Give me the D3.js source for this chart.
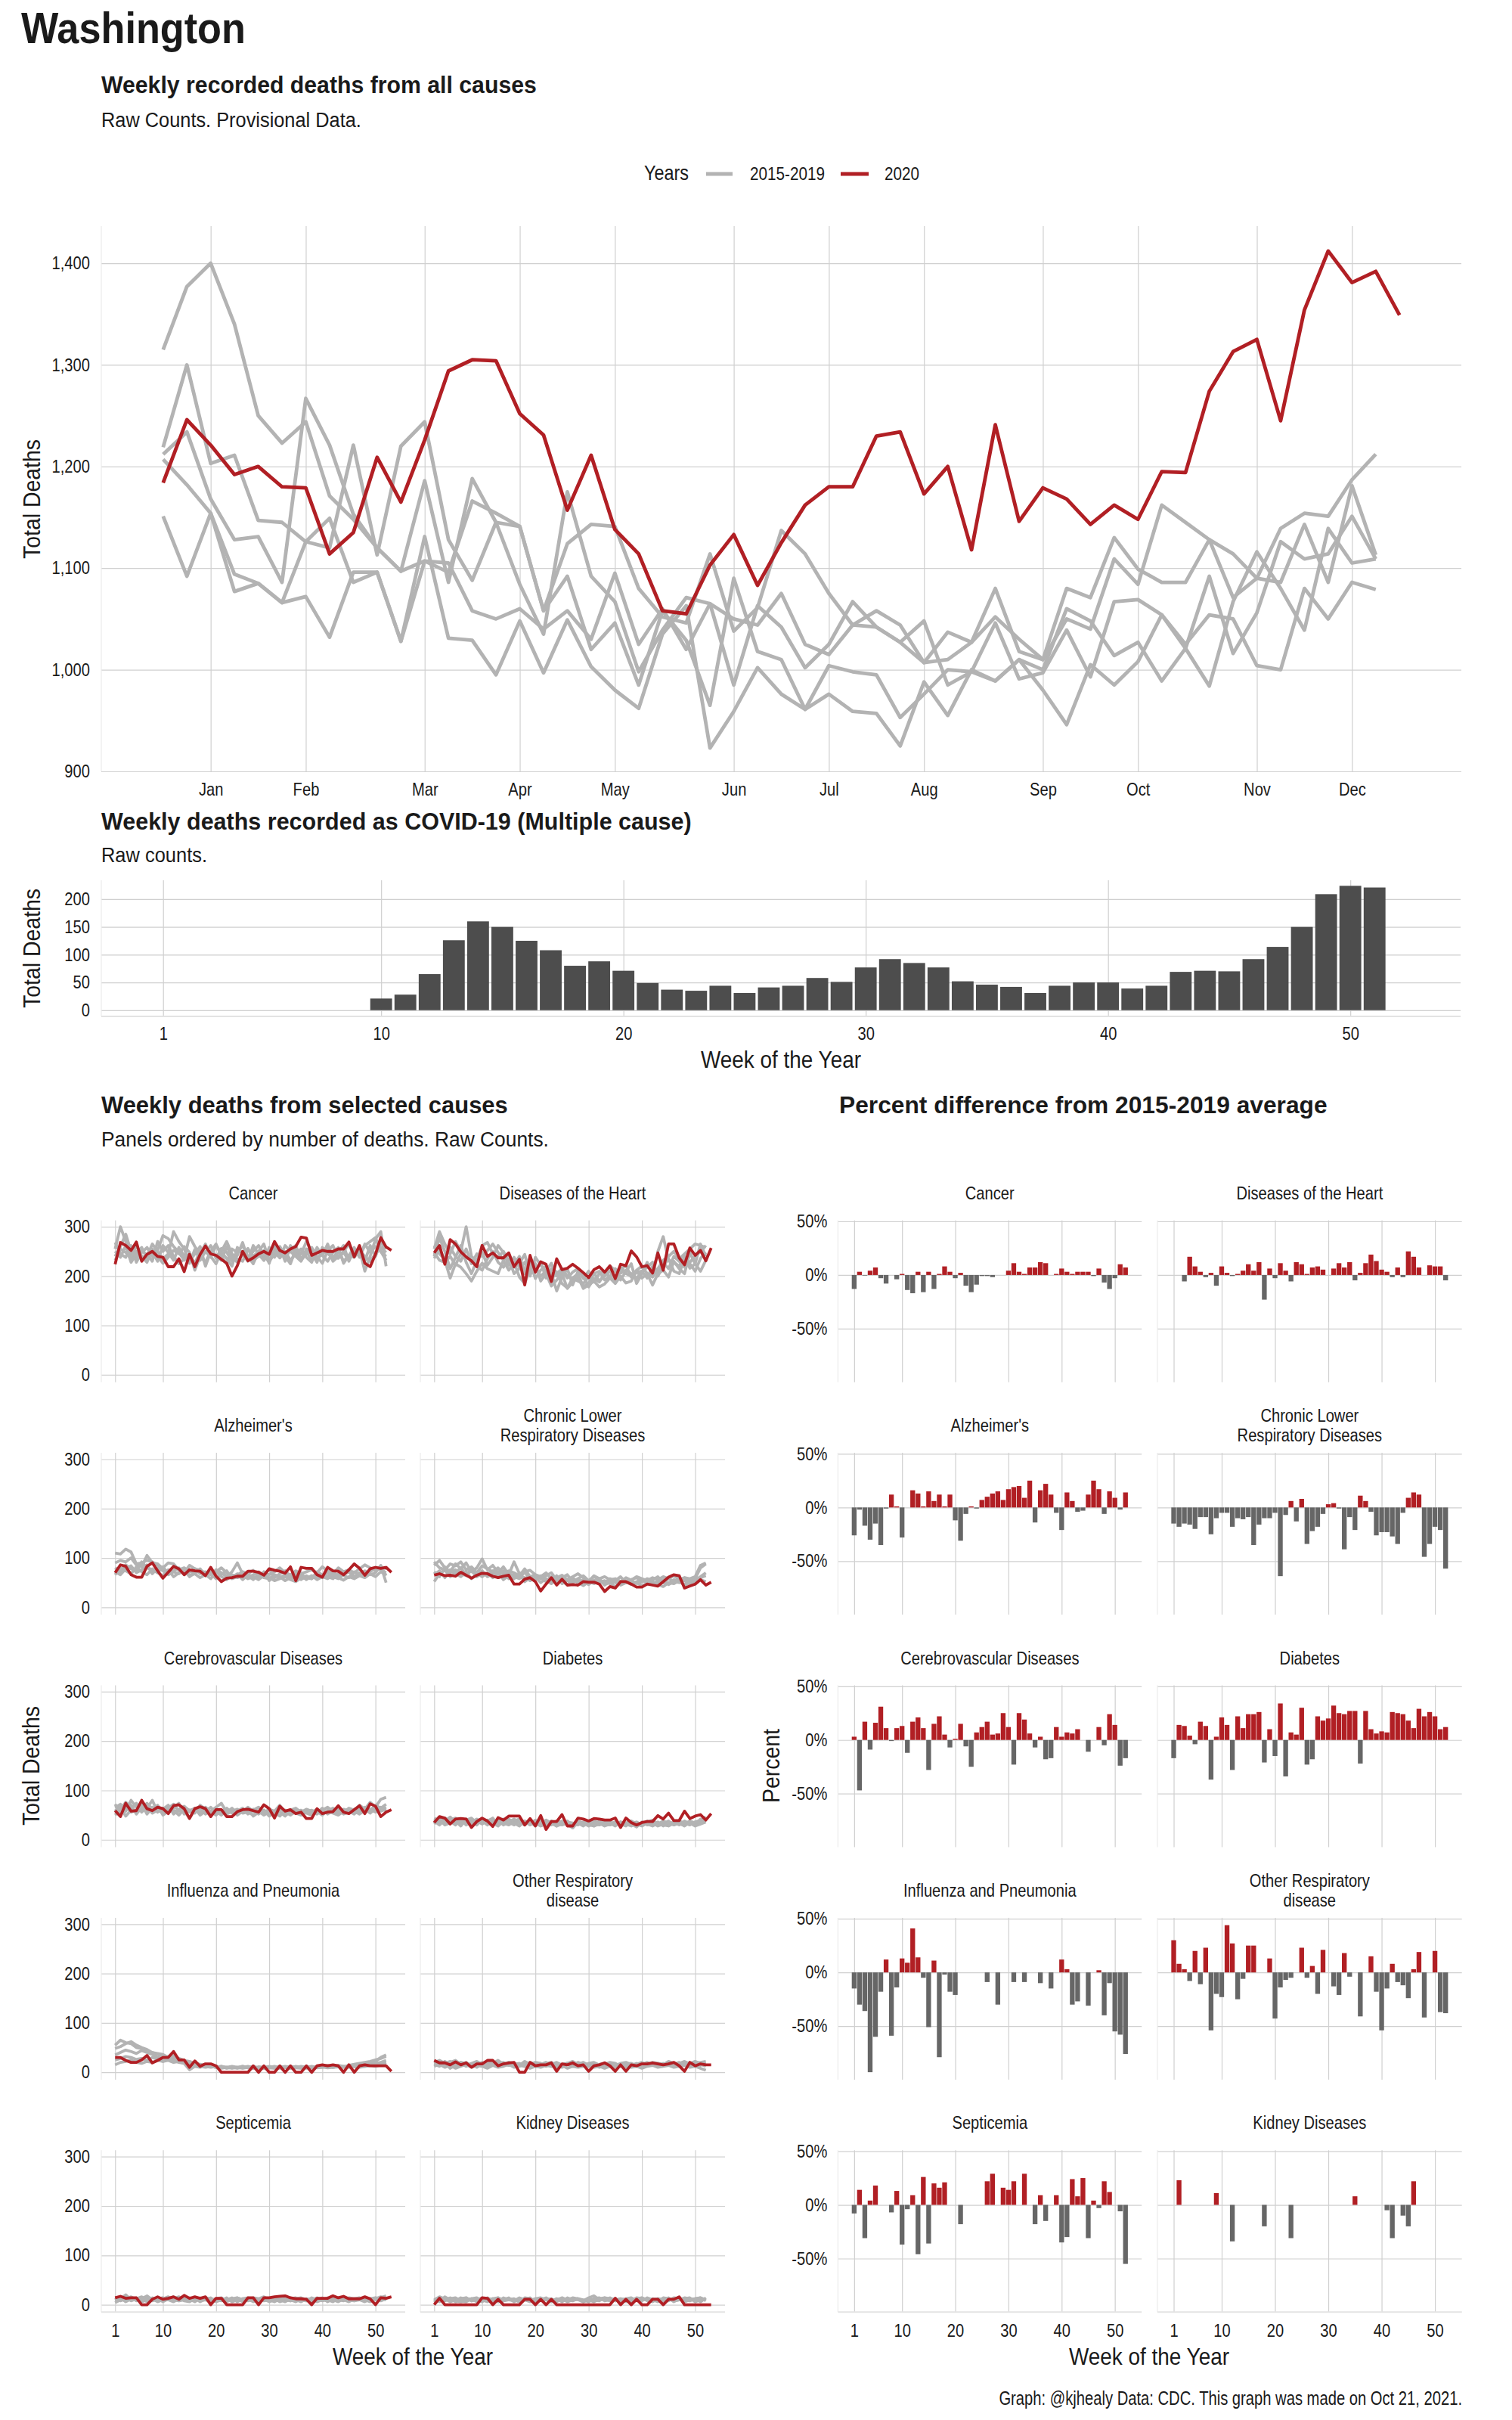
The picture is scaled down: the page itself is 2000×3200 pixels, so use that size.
<!DOCTYPE html>
<html><head><meta charset="utf-8">
<script src="https://cdn.jsdelivr.net/npm/d3@7"></script>
<style>
body{margin:0;background:#fff;}
svg text{font-family:"Liberation Sans",Arial,sans-serif;fill:#1a1a1a;}
</style></head><body><script>
// ---------------- DATA ----------------
const monthLabels = ["Jan","Feb","Mar","Apr","May","Jun","Jul","Aug","Sep","Oct","Nov","Dec"];
const monthWeeks  = [3,7,12,16,20,25,29,33,38,42,47,51];
const yearsPast = ["2015","2016","2017","2018","2019"];
const all2020 = [1184,1246,1221,1192,1200,1180,1179,1114,1135,1209,1165,1226,1294,1305,1304,1252,1231,1157,1211,1138,1114,1058,1055,1103,1133,1083,1125,1162,1180,1180,1230,1234,1173,1200,1118,1241,1146,1179,1168,1143,1162,1148,1195,1194,1274,1313,1325,1245,1354,1412,1381,1392,1349];
const all2015 = [1315,1377,1400,1340,1250,1223,1244,1171,1148,1120,1097,1107,1096,1166,1154,1141,1058,1124,1143,1141,1080,1052,1046,1114,1038,1061,1137,1114,1075,1044,1058,1044,1007,1037,1027,1080,1018,1010,1080,1071,1130,1099,1086,1086,1128,1071,1090,1139,1154,1151,1187,1212];
const all2016 = [1219,1300,1203,1211,1147,1145,1126,1120,1221,1113,1220,1244,1128,1088,1145,1084,1035,1175,1092,1067,998,1039,1071,1065,985,1063,1042,1002,1025,1067,1042,1027,1048,985,998,1046,991,997,1039,993,1067,1069,1054,1021,1092,1016,1056,1126,1109,1114,1151,1109];
const all2017 = [1212,1234,1168,1128,1131,1086,1267,1221,1153,1120,1097,1186,1086,1188,1145,1141,1058,1092,1020,1046,985,1058,1029,965,1090,1018,1010,961,1004,998,995,953,976,1000,998,989,1010,1000,1060,1048,1014,1027,989,1021,984,1067,1116,1080,1039,1139,1105,1109];
const all2018 = [1151,1092,1154,1077,1085,1066,1072,1032,1096,1096,1028,1131,1031,1029,995,1048,997,1049,1003,980,962,1035,1063,923,959,1002,976,961,976,959,957,925,988,955,1000,989,1010,980,946,1005,985,1008,1054,1025,1054,1050,1004,1000,1080,1050,1086,1079];
const all2019 = [1207,1182,1154,1094,1085,1066,1126,1149,1086,1096,1028,1107,1105,1058,1050,1060,1040,1058,1030,1095,1025,1060,1020,1065,1050,1044,1075,1025,1015,1044,1042,1027,1007,1010,1027,1052,1030,1010,1050,1040,1109,1084,1162,1145,1128,1114,1090,1086,1143,1086,1181,1113];
const allTicks = [900,1000,1100,1200,1300,1400];

const covidFirstWeek = 10;
const covidDeaths = [21,28,65,126,160,150,125,108,80,88,71,49,37,35,44,31,41,44,58,51,77,92,85,77,52,46,42,31,44,50,50,39,44,69,71,70,92,114,150,209,224,221];
const covidYTicks = [0,50,100,150,200];
const weekTicks = [1,10,20,30,40,50];

const causeLabels = [["Cancer"],["Diseases of the Heart"],["Alzheimer's"],["Chronic Lower","Respiratory Diseases"],["Cerebrovascular Diseases"],["Diabetes"],["Influenza and Pneumonia"],["Other Respiratory","disease"],["Septicemia"],["Kidney Diseases"]];
const countTicks = [0,100,200,300];
const pctTicks = [-50,0,50];

// 2020 weekly counts by cause
const cancer2020 = [224,268,262,252,269,230,244,250,240,238,219,219,235,209,244,219,244,261,245,242,234,226,200,221,250,231,237,245,250,244,270,252,247,255,260,279,277,242,247,252,250,250,255,255,269,239,262,226,219,244,278,259,252];
const heart2020 = [247,262,224,274,265,249,239,231,219,262,240,247,237,237,247,219,234,182,242,208,229,224,189,235,213,216,224,216,207,197,213,219,208,221,195,224,221,251,239,219,221,206,247,212,265,265,237,223,257,242,252,231,257];
const alz2020 = [70,86,83,66,61,61,83,90,74,59,71,83,78,66,76,74,73,64,81,63,52,59,60,63,63,73,73,71,65,78,75,73,69,82,54,81,79,79,66,61,81,74,73,66,76,88,79,65,78,81,79,81,71];
const clrd2020 = [65,68,64,65,63,71,65,59,65,69,68,63,60,63,65,47,47,57,60,52,33,47,60,45,57,45,46,45,52,51,51,47,32,42,39,52,52,47,41,41,47,45,43,52,61,66,64,39,43,47,56,45,51];
const cere2020 = [59,47,74,58,59,80,63,59,66,63,53,69,71,63,43,63,67,63,47,61,61,47,47,57,61,62,59,56,71,63,44,68,58,61,53,56,43,43,63,53,56,57,69,56,53,61,69,53,73,68,47,56,61];
const diab2020 = [35,47,44,32,42,43,42,25,37,44,38,27,45,40,48,48,48,30,43,28,49,21,37,37,51,28,28,44,42,38,43,42,40,40,44,25,44,35,30,35,37,37,49,42,54,39,39,58,43,48,51,40,53];
const flu2020 = [30,30,24,20,20,25,34,19,24,30,30,42,25,25,10,23,12,17,17,13,0,0,0,0,0,0,13,0,13,0,0,13,0,13,0,0,13,0,13,15,13,15,13,0,15,0,13,15,13,13,13,13,2];
const oth2020 = [24,19,19,15,21,15,19,10,17,17,24,24,13,17,19,20,0,0,20,13,15,15,19,2,17,15,19,13,15,2,13,15,19,13,2,15,2,15,13,17,17,19,17,15,17,20,13,2,20,13,17,15,15];
const sep2020 = [14,17,13,14,14,0,0,11,16,11,13,16,11,19,13,16,13,16,0,13,13,0,0,0,0,14,14,0,14,14,16,17,18,14,12,12,11,0,13,13,13,18,14,17,12,12,12,16,12,0,14,13,16];
const kid2020 = [0,13,0,0,0,0,0,0,0,14,13,0,11,0,0,0,0,11,11,0,11,0,11,0,0,0,0,0,0,0,0,0,0,0,13,0,11,0,11,0,0,11,11,0,11,11,16,0,0,0,0,0,0];

// 2015-2019 weekly counts by cause (one row per year)
const cancerPast = [
[255,300,270,240,250,235,245,230,270,250,262,240,225,235,280,260,245,265,240,225,250,270,245,235,230,255,240,250,265,230,245,260,240,225,255,245,270,250,235,245,255,230,240,250,265,240,255,210,240,275,290,220],
[240,260,285,250,235,255,240,265,250,235,245,290,270,255,230,245,260,220,250,265,240,225,255,248,262,240,225,250,232,258,248,237,262,250,240,230,255,245,228,258,246,236,252,230,242,258,238,265,248,260,250,232],
[268,245,238,262,228,248,258,240,252,282,276,260,248,232,245,225,252,248,262,236,256,248,230,242,268,235,250,262,242,228,256,247,238,252,262,232,245,258,240,226,251,262,236,248,232,255,248,230,262,240,268,255],
[232,255,248,235,262,240,228,255,240,226,238,252,245,260,248,212,240,228,250,242,232,260,238,228,244,256,232,240,252,226,262,237,250,232,245,255,238,228,255,242,230,248,258,226,242,238,252,240,230,245,258,248],
[250,238,262,228,245,258,236,250,230,262,248,232,258,240,226,254,232,250,238,262,248,236,220,258,245,230,262,244,232,250,238,258,230,262,245,236,250,232,258,242,265,236,248,262,230,255,240,262,270,278,250,240]];
const heartPast = [
[255,290,265,245,270,250,300,240,230,262,268,245,238,250,230,224,240,210,232,215,200,210,195,205,215,200,195,190,185,198,206,190,200,210,195,218,205,200,212,220,205,198,215,232,240,250,235,245,255,265,262,258],
[262,245,235,258,240,230,255,225,245,240,252,265,248,232,245,218,226,244,205,212,228,196,215,208,185,176,196,205,178,186,205,210,192,200,186,212,222,198,208,210,196,220,210,228,215,240,230,218,228,240,250,262],
[240,278,250,215,238,262,228,205,232,248,222,238,262,248,222,238,218,205,228,195,212,220,206,170,198,215,182,210,200,178,195,188,205,220,212,192,210,225,185,205,228,200,250,280,232,228,220,240,225,210,236,248],
[236,255,232,196,225,218,205,190,210,226,215,210,205,232,212,228,198,185,215,225,190,205,180,192,205,175,188,198,175,182,190,178,184,196,185,200,186,190,210,196,205,182,205,212,198,230,215,205,248,225,210,232],
[248,232,228,240,222,246,238,232,220,212,235,250,228,218,235,205,215,228,200,238,222,210,226,200,212,196,208,215,195,210,188,205,210,198,215,206,212,205,195,210,218,228,200,220,235,210,205,236,216,225,265,240]];
const alzPast = [
[110,108,118,112,88,90,95,92,85,80,90,88,76,80,72,78,75,70,68,72,80,70,64,66,72,68,75,62,70,66,72,80,70,66,74,68,72,76,70,82,74,68,80,72,76,70,78,86,80,74,82,78],
[90,95,92,100,86,82,105,90,88,78,72,82,75,70,85,78,68,72,66,76,70,62,72,90,68,60,66,72,64,78,60,68,74,62,70,64,60,58,72,66,62,70,64,68,74,62,70,64,72,80,76,70],
[80,72,86,78,74,92,80,76,70,82,68,74,80,66,72,70,78,65,72,60,66,74,58,62,70,64,56,68,60,58,66,62,54,60,68,56,64,58,66,60,70,62,58,66,72,60,68,74,66,70,85,50],
[66,80,74,68,82,72,66,78,70,64,76,62,70,78,64,68,60,66,58,72,62,56,66,60,64,58,62,56,64,60,54,58,62,56,52,60,58,64,56,62,58,66,60,55,62,58,64,60,68,62,72,66],
[72,66,78,84,70,76,86,68,80,74,66,72,68,76,62,70,74,64,68,58,70,64,60,68,56,66,62,58,72,54,64,60,66,58,62,70,56,64,60,66,62,58,68,64,60,72,66,62,74,78,82,64]];
const clrdPast = [
[85,95,80,72,88,78,90,72,80,98,76,85,70,82,66,92,68,72,75,66,62,70,58,60,65,56,62,68,60,52,64,58,62,56,58,52,60,55,62,58,54,60,56,62,58,52,55,60,58,62,85,90],
[92,80,76,88,84,92,76,82,70,84,78,72,80,68,74,70,64,78,62,66,58,64,70,55,60,66,52,58,64,54,62,56,50,58,54,62,50,56,60,52,58,55,62,50,58,64,56,60,52,58,80,88],
[52,68,75,62,70,80,66,74,62,70,68,74,60,66,70,62,58,72,55,64,60,52,62,48,58,54,60,50,56,48,52,58,45,54,50,46,54,48,52,56,50,46,54,50,48,56,52,46,54,50,60,64],
[66,74,60,76,68,62,72,58,66,74,62,68,72,56,64,58,68,52,60,56,64,54,48,58,52,46,56,50,44,52,48,54,46,50,42,48,52,46,50,44,48,52,46,42,50,48,54,44,50,48,56,52],
[72,62,82,70,76,68,64,80,70,62,70,60,66,74,58,66,62,60,54,62,50,58,52,64,48,55,50,56,52,46,55,50,54,48,52,45,50,54,48,52,55,48,50,56,46,52,50,54,48,55,62,70]];
const cerePast = [
[65,72,58,80,66,60,74,62,70,56,64,72,58,66,60,54,70,62,58,66,74,56,62,58,64,52,60,66,55,62,58,70,54,60,64,56,62,58,52,60,66,58,62,56,64,60,70,62,76,66,82,86],
[50,62,76,66,70,58,64,80,56,62,70,52,60,68,58,64,50,58,66,54,60,56,64,50,58,62,48,56,60,52,58,62,56,50,58,54,60,56,62,52,58,64,54,60,56,62,58,66,60,70,64,72],
[72,55,62,70,52,66,58,62,68,50,58,64,74,52,60,62,56,60,52,62,56,64,54,60,56,66,58,52,60,48,56,62,58,54,62,52,58,60,54,64,52,60,56,62,58,52,64,58,62,56,60,66],
[58,66,48,60,74,56,68,54,60,64,56,60,50,62,56,58,64,52,58,50,60,52,58,62,54,56,50,58,52,60,50,56,48,58,54,50,56,52,58,50,60,54,50,58,62,54,56,62,54,64,58,62],
[62,50,68,56,60,72,52,66,58,60,66,56,62,58,44,60,54,66,56,58,50,60,56,52,60,54,62,58,50,56,54,48,60,52,56,60,54,50,56,58,54,56,60,52,56,58,52,60,56,62,66,58]];
const diabPast = [
[40,35,44,38,30,42,36,28,40,34,38,44,30,36,42,34,28,38,32,40,30,36,34,28,38,32,24,36,30,34,28,38,32,30,36,28,34,32,26,36,30,34,28,32,38,30,34,28,36,30,42,38],
[32,44,38,46,36,32,40,44,34,38,30,40,36,34,30,38,42,32,36,28,38,34,30,36,32,38,30,34,28,36,32,30,34,38,30,36,32,28,34,30,36,40,32,38,34,30,36,32,38,34,36,44],
[44,38,32,40,44,36,34,40,30,42,36,32,40,30,36,42,34,38,30,36,32,40,34,28,32,36,34,30,36,32,38,34,28,32,36,30,34,38,32,28,34,36,30,34,32,36,30,38,32,36,40,46],
[36,42,30,34,38,28,42,34,38,32,40,34,28,38,32,34,36,30,40,34,28,32,38,34,30,34,28,32,34,30,28,32,36,30,34,32,28,36,30,34,32,28,34,30,28,34,32,30,34,28,32,36],
[38,30,40,36,32,40,30,36,42,36,34,30,38,42,36,30,38,34,32,38,36,30,32,38,36,30,32,38,34,28,34,36,30,34,28,36,30,34,36,30,38,32,36,28,36,32,38,34,30,36,34,40]];
const fluPast = [
[55,65,60,58,50,48,42,40,38,36,30,28,25,22,20,18,15,14,12,12,10,10,12,10,9,10,8,10,9,12,10,8,10,9,12,10,11,9,10,12,14,10,12,11,14,12,15,14,18,22,30,35],
[48,52,58,62,55,50,46,40,36,32,30,34,28,24,22,18,16,14,12,10,12,10,8,10,12,9,10,8,10,11,9,12,10,8,10,12,10,9,11,10,12,14,12,10,14,16,18,20,22,25,28,32],
[35,40,45,42,38,44,40,36,30,28,32,30,26,20,18,16,14,12,10,12,10,9,10,8,10,12,9,10,8,10,9,11,10,12,10,9,8,10,12,11,10,12,14,12,10,14,12,16,15,18,20,24],
[25,28,32,30,26,28,24,30,26,22,24,20,22,18,16,14,12,10,12,10,8,10,9,10,8,10,12,9,8,10,12,9,10,8,11,10,12,10,9,10,12,10,11,12,10,12,14,12,14,16,15,20],
[15,20,22,25,20,18,22,20,24,22,26,24,20,18,5,12,10,14,12,10,12,8,10,9,12,10,8,11,10,9,8,10,12,10,9,8,10,12,10,11,9,10,12,10,12,11,10,12,14,12,15,18]];
const othPast = [
[20,24,18,22,16,20,14,18,22,16,20,18,24,16,20,18,14,22,16,20,18,14,16,20,15,18,22,16,14,18,20,15,18,16,14,18,20,16,14,18,16,20,18,15,22,18,16,20,18,22,18,16],
[16,12,20,8,14,18,12,16,10,18,14,20,12,16,14,18,12,16,10,14,18,12,16,14,10,16,12,14,18,12,16,10,14,12,16,12,10,14,18,12,14,16,12,14,16,18,12,16,14,20,16,12],
[22,18,14,20,24,16,20,12,18,14,22,16,18,20,14,16,18,12,20,16,14,18,20,12,16,18,14,20,16,12,18,14,16,20,18,12,16,18,14,16,20,14,18,16,20,14,18,22,16,18,20,22],
[12,16,10,14,8,12,16,10,14,12,8,14,10,12,16,10,14,12,8,12,10,14,12,10,14,8,12,10,12,14,10,12,8,12,10,14,12,10,12,8,12,14,10,12,14,10,12,14,10,12,8,4],
[18,14,22,16,12,20,18,14,16,20,12,18,16,14,20,12,16,14,18,12,16,20,14,16,12,18,14,16,20,14,12,16,18,14,16,12,18,14,16,20,14,16,12,18,14,16,20,14,18,16,14,18]];
const sepPast = [
[12,16,10,14,8,12,18,10,14,6,12,16,10,12,14,8,12,10,14,6,10,12,8,14,10,12,6,10,14,8,12,10,6,12,14,10,8,12,10,14,6,12,10,8,14,12,10,6,12,14,10,16],
[8,12,20,10,14,6,10,12,8,14,10,6,12,14,10,12,8,10,6,12,14,8,10,12,6,10,14,12,8,10,12,6,10,8,12,14,10,6,12,10,8,14,12,10,6,12,14,10,8,12,16,14],
[14,8,12,16,10,12,6,14,10,12,16,10,8,12,10,14,6,12,10,8,12,10,14,6,12,10,8,12,16,10,6,12,10,14,8,12,10,12,6,10,14,8,12,10,12,8,10,14,12,10,14,18],
[10,14,6,12,10,8,14,12,6,10,12,14,8,10,12,6,14,10,8,12,10,6,12,14,10,8,12,6,10,12,14,8,12,10,6,12,8,14,10,12,10,6,14,12,10,8,12,10,6,14,12,10],
[4,10,14,8,12,16,10,8,12,14,10,12,16,8,6,12,10,14,12,10,8,14,6,10,12,14,10,8,12,6,10,14,12,8,10,6,12,10,14,8,12,10,6,12,8,10,12,14,10,12,8,12]];
const kidPast = [
[8,14,10,12,6,10,14,8,12,10,6,12,14,8,10,12,6,10,8,12,14,10,6,12,8,10,14,12,6,10,8,12,10,14,8,10,12,6,10,14,8,12,10,6,12,8,10,14,12,10,8,12],
[12,6,16,10,8,14,10,12,6,10,14,8,12,10,14,6,12,10,8,12,10,14,8,10,12,6,10,12,8,14,18,10,12,8,10,12,6,10,12,8,14,10,12,6,10,12,14,8,10,12,6,14],
[4,10,8,12,14,8,6,12,10,14,8,12,6,10,12,8,14,10,6,12,8,10,12,6,14,10,8,12,10,6,12,14,8,10,12,6,10,8,14,12,10,6,12,10,8,14,12,6,10,12,14,8],
[10,16,12,6,10,12,14,8,10,6,12,10,14,8,12,10,6,14,12,8,10,12,6,10,14,8,12,10,6,12,10,8,14,12,10,6,12,14,8,10,12,10,6,14,12,8,10,12,14,6,10,12],
[6,12,10,14,8,6,10,12,14,8,10,12,6,14,10,8,12,10,14,6,12,10,8,12,6,14,10,12,8,10,6,12,14,10,8,12,10,6,12,14,10,8,12,10,14,6,12,10,8,12,14,10]];

// percent difference from 2015-2019 average (null = not reported)
const _ = null;
const cancerPct = [-13,3,-0.5,4,7,-3,-8,0,-4,1,-14,-17,3,-16,3,-13,1,8,3,-3,2,-10,-16,-9,-1,-1,-2,0,0,4,11,3,1,7,7,12,11,0,1,6,3,1,3,3,3,-1,6,-7,-13,-3,10,7];
const heartPct = [_,_,-6,17,8,3,-2,2,-10,8,2,-1,1,4,10,4,12,-23,6,-3,11,4,-6,12,10,1,7,8,5,0,6,11,7,12,-5,2,11,19,13,5,3,-2,7,-2,22,17,7,0,9,8,8,-5];
const alzPct = [-26,-2,-17,-30,-15,-35,-1,12,1,-28,0,16,13,1,15,6,12,1,12,-12,-31,-6,1,-1,7,10,13,15,7,17,19,20,9,25,-14,16,22,12,-5,-21,14,6,-4,-3,12,25,17,-6,15,9,-2,14];
const clrdPct = [-15,-18,-15,-16,-20,-9,-9,-25,-10,-5,-5,-18,-10,-11,-9,-35,-16,-10,-10,-5,-64,-7,6,-13,8,-34,-22,-18,-6,3,4,-1,-39,-9,-21,11,6,-4,-26,-23,-23,-27,-34,-5,9,14,12,-46,-34,-18,-21,-57];
const cerePct = [3,-47,17,-9,16,31,11,-1,11,13,-12,17,21,11,-28,15,22,5,-7,1,15,-6,-25,7,12,17,5,6,25,12,-23,25,19,6,-7,3,-18,-17,12,3,7,6,10,_,-11,0,12,-5,24,14,-24,-17];
const diabPct = [-17,14,13,4,-4,17,13,-37,3,21,14,-28,22,11,24,24,26,-21,10,-15,34,-34,7,5,30,-23,-18,22,18,20,32,25,24,27,27,-22,27,10,6,8,7,26,25,24,18,11,29,22,26,22,10,12];
const fluPct = [-15,-30,-36,-93,-60,-18,12,-59,-14,13,9,41,14,-5,-51,11,-79,-2,-18,-21,_,_,_,_,_,-9,_,-30,_,_,-9,_,-9,_,_,-10,_,-15,_,12,3,-30,-27,_,-31,_,2,-40,-10,-55,-58,-76];
const othPct = [30,8,3,-8,20,-11,23,-54,-20,-23,44,27,-25,-6,25,25,_,_,13,-43,-14,-7,-5,_,23,-5,6,-20,21,_,-13,-21,18,-4,_,-41,_,15,-18,-54,-15,8,-9,-12,-24,3,19,-42,_,20,-37,-38];
const sepPct = [-8,14,-31,4,18,_,_,-7,13,-37,-4,9,-46,26,-36,20,16,21,_,_,-18,_,_,_,_,22,29,_,16,14,22,_,29,_,-18,9,-15,_,9,-35,-30,24,8,25,-31,4,-3,22,12,_,-6,-55];
const kidPct = [_,23,_,_,_,_,_,_,11,_,_,-34,_,_,_,_,_,-20,_,_,_,_,-31,_,_,_,_,_,_,_,_,_,_,_,8,_,_,_,_,_,-5,-31,_,-10,-20,22,_,_,_,_,_,_];

const cur2020 = [cancer2020,heart2020,alz2020,clrd2020,cere2020,diab2020,flu2020,oth2020,sep2020,kid2020];
const past = [cancerPast,heartPast,alzPast,clrdPast,cerePast,diabPast,fluPast,othPast,sepPast,kidPast];
const pcts = [cancerPct,heartPct,alzPct,clrdPct,cerePct,diabPct,fluPct,othPct,sepPct,kidPct];

// ---------------- DRAW ----------------
const RED = "#b11f24", GRAY = "#b3b3b3", GRID = "#d0d0d0", DARK = "#4d4d4d", BARGRAY = "#666666";
const SX = 0.84; // horizontal condensing to mimic a condensed face
const W = 2000, H = 3200;
const svg = d3.select("body").append("svg").attr("width", W).attr("height", H);
svg.append("rect").attr("width", W).attr("height", H).attr("fill", "#fff");

// condense a text element horizontally (optionally to a target width)
function condense(t, target, rotate) {
  const node = t.node();
  const x = +t.attr("x") || 0, y = +t.attr("y") || 0;
  let s = SX;
  if (target) { const w = node.getComputedTextLength(); if (w > 0) s = target / w; }
  t.attr("x", 0).attr("y", 0).attr("transform", `translate(${x},${y})${rotate ? " rotate(-90)" : ""} scale(${s},1)`);
}
function txt(x, y, s, size, opts = {}) {
  const t = svg.append("text").attr("x", x).attr("y", y).attr("font-size", size).text(s);
  if (opts.weight) t.attr("font-weight", opts.weight);
  if (opts.anchor) t.attr("text-anchor", opts.anchor);
  if (opts.rotate) t.attr("dominant-baseline", "central");
  condense(t, opts.w, opts.rotate);
  return t;
}

function grid(g, xs, ys, xt, yt, o) {
  const [x0, x1] = xs.range(); const [yb, ytop] = ys.range();
  const ax = d3.axisBottom(xs).tickValues(xt).tickSize(-(yb - ytop)).tickPadding(o.xpad)
    .tickFormat(o.xlab ? o.xfmt : () => "");
  const gx = g.append("g").attr("transform", `translate(0,${yb})`).call(ax);
  gx.select(".domain").remove();
  gx.selectAll("line").attr("stroke", GRID).attr("stroke-width", 1.2);
  gx.selectAll("text").attr("font-size", o.fs).attr("fill", "#1a1a1a").attr("font-family", null)
    .each(function () { condense(d3.select(this)); });
  const ay = d3.axisLeft(ys).tickValues(yt).tickSize(-(x1 - x0)).tickPadding(o.ypad)
    .tickFormat(o.ylab ? o.yfmt : () => "");
  const gy = g.append("g").attr("transform", `translate(${x0},0)`).call(ay);
  gy.select(".domain").remove();
  gy.selectAll("line").attr("stroke", GRID).attr("stroke-width", 1.2);
  gy.selectAll("text").attr("font-size", o.fs).attr("fill", "#1a1a1a").attr("font-family", null)
    .each(function () { condense(d3.select(this)); });
  g.append("line").attr("x1", x0).attr("x2", x0).attr("y1", ytop).attr("y2", yb).attr("stroke", "#ebebeb").attr("stroke-width", 1.2);
  if (o.bottomLine) g.append("line").attr("x1", x0).attr("x2", x1).attr("y1", yb).attr("y2", yb).attr("stroke", "#e3e3e3").attr("stroke-width", 2);
}

// Titles
txt(28, 57, "Washington", 58, {weight: "bold", w: 297});
txt(134, 123, "Weekly recorded deaths from all causes", 32, {weight: "bold", w: 576});
txt(134, 168, "Raw Counts. Provisional Data.", 28, {w: 344});

// Legend
txt(852, 238, "Years", 27, {w: 59});
svg.append("line").attr("x1", 934).attr("x2", 969).attr("y1", 230).attr("y2", 230).attr("stroke", GRAY).attr("stroke-width", 5);
txt(992, 238, "2015-2019", 23, {w: 99});
svg.append("line").attr("x1", 1112).attr("x2", 1149).attr("y1", 230).attr("y2", 230).attr("stroke", RED).attr("stroke-width", 5);
txt(1170, 238, "2020", 23, {w: 46});

// --- Top chart ---
{
  const xs = d3.scaleLinear().domain([-1.6, 55.6]).range([134, 1933]);
  const ys = d3.scaleLinear().domain([900, 1436.5]).range([1020, 299]);
  const g = svg.append("g");
  grid(g, xs, ys, monthWeeks, allTicks, {xlab: true, ylab: true, xfmt: (d, i) => monthLabels[i], yfmt: d3.format(","), fs: 24, xpad: 15, ypad: 15});
  const line = d3.line().x((d, i) => xs(i + 1)).y(d => ys(d));
  [all2015, all2016, all2017, all2018, all2019].forEach(s => {
    g.append("path").attr("d", line(s)).attr("fill", "none").attr("stroke", GRAY).attr("stroke-width", 4.8).attr("stroke-linejoin", "round");
  });
  g.append("path").attr("d", line(all2020)).attr("fill", "none").attr("stroke", RED).attr("stroke-width", 4.8).attr("stroke-linejoin", "round");
  txt(42, 660, "Total Deaths", 32, {rotate: true, anchor: "middle", w: 158});
}

// --- COVID bar chart ---
txt(134, 1097, "Weekly deaths recorded as COVID-19 (Multiple cause)", 32, {weight: "bold", w: 781});
txt(134, 1140, "Raw counts.", 28, {w: 140});
{
  const xs = d3.scaleLinear().domain([-1.55, 54.55]).range([134, 1932]);
  const ys = d3.scaleLinear().domain([-11.2, 234]).range([1344, 1164]);
  const g = svg.append("g");
  grid(g, xs, ys, weekTicks, covidYTicks, {xlab: true, ylab: true, xfmt: d => d, yfmt: d => d, fs: 24, xpad: 14, ypad: 15, bottomLine: true});
  g.selectAll("rect.cv").data(covidDeaths).enter().append("rect")
    .attr("x", (d, i) => xs(covidFirstWeek + i - 0.45))
    .attr("width", (d, i) => xs(covidFirstWeek + i + 0.45) - xs(covidFirstWeek + i - 0.45))
    .attr("y", d => ys(d)).attr("height", d => ys(0) - ys(d))
    .attr("fill", DARK);
  txt(42, 1254, "Total Deaths", 32, {rotate: true, anchor: "middle", w: 158});
  txt(1033, 1412, "Week of the Year", 32, {anchor: "middle", w: 212});
}

// --- Small multiples ---
txt(134, 1472, "Weekly deaths from selected causes", 32, {weight: "bold", w: 538});
txt(134, 1516, "Panels ordered by number of deaths. Raw Counts.", 28, {w: 592});
txt(1110, 1472, "Percent difference from 2015-2019 average", 32, {weight: "bold", w: 646});

const rowTop = r => 1613.7 + r * 307.4;
const PH = 214;
const lineCols = [[134, 536], [556, 959]];
const pctCols = [[1108.4, 1510.2], [1531, 1933.7]];

function strip(cx, top, lines) {
  const c = top - 36.5;
  if (lines.length === 1) txt(cx, c + 8.5, lines[0], 24, {anchor: "middle"});
  else { txt(cx, c - 4.5, lines[0], 24, {anchor: "middle"}); txt(cx, c + 21.5, lines[1], 24, {anchor: "middle"}); }
}

for (let k = 0; k < 10; k++) {
  const r = Math.floor(k / 2), c = k % 2, top = rowTop(r), bottomRow = r === 4;
  {
    const [x0, x1] = lineCols[c];
    const xs = d3.scaleLinear().domain([-1.6, 55.6]).range([x0, x1]);
    const ys = d3.scaleLinear().domain([-14.9, 312.9]).range([top + PH, top]);
    const g = svg.append("g");
    grid(g, xs, ys, weekTicks, countTicks, {xlab: bottomRow, ylab: c === 0, xfmt: d => d, yfmt: d => d, fs: 24, xpad: 16, ypad: 15, bottomLine: bottomRow});
    const line = d3.line().x((d, i) => xs(i + 1)).y(d => ys(d));
    past[k].forEach(s => g.append("path").attr("d", line(s)).attr("fill", "none").attr("stroke", GRAY).attr("stroke-width", 3.8).attr("stroke-linejoin", "round"));
    g.append("path").attr("d", line(cur2020[k])).attr("fill", "none").attr("stroke", RED).attr("stroke-width", 3.8).attr("stroke-linejoin", "round");
    strip((x0 + x1) / 2, top, causeLabels[k]);
  }
  {
    const [x0, x1] = pctCols[c];
    const xs = d3.scaleLinear().domain([-2.05, 55.05]).range([x0, x1]);
    const ys = d3.scaleLinear().domain([-99.9, 50.9]).range([top + PH, top]);
    const g = svg.append("g");
    grid(g, xs, ys, weekTicks, pctTicks, {xlab: bottomRow, ylab: c === 0, xfmt: d => d, yfmt: d => d + "%", fs: 24, xpad: 16, ypad: 14, bottomLine: bottomRow});
    const data = pcts[k].map((v, i) => ({w: i + 1, v})).filter(d => d.v !== null);
    g.selectAll("rect").data(data).enter().append("rect")
      .attr("x", d => xs(d.w - 0.45)).attr("width", d => xs(d.w + 0.45) - xs(d.w - 0.45))
      .attr("y", d => ys(Math.max(0, d.v))).attr("height", d => Math.abs(ys(d.v) - ys(0)))
      .attr("fill", d => d.v > 0 ? RED : BARGRAY);
    strip((x0 + x1) / 2, top, causeLabels[k]);
  }
}
txt(41, 2335, "Total Deaths", 32, {rotate: true, anchor: "middle", w: 158});
txt(1020, 2335, "Percent", 32, {rotate: true, anchor: "middle", w: 98});
txt(546, 3127, "Week of the Year", 32, {anchor: "middle", w: 212});
txt(1520, 3127, "Week of the Year", 32, {anchor: "middle", w: 212});
txt(1934, 3180, "Graph: @kjhealy Data: CDC. This graph was made on Oct 21, 2021.", 26, {anchor: "end", w: 613});
</script></body></html>
